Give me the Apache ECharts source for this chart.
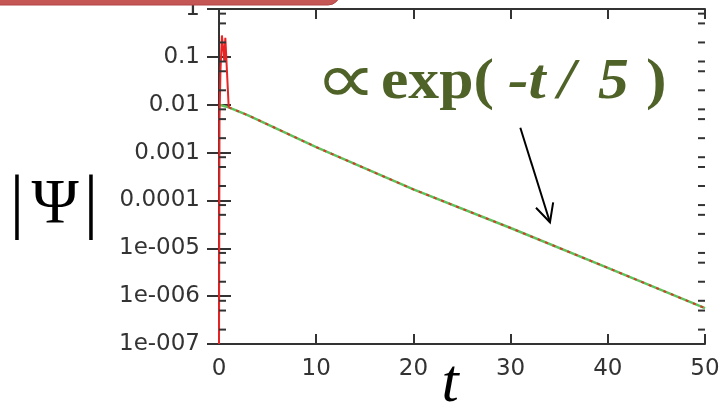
<!DOCTYPE html>
<html>
<head>
<meta charset="utf-8">
<script src="https://cdn.jsdelivr.net/npm/echarts@6/dist/echarts.min.js"></script>
<style>
html,body{margin:0;padding:0;background:#fff;}
#chart{width:724px;height:409px;}
</style>
</head>
<body>
<div id="chart"></div>
<script>
// ---- data ----
const xTicks = [0, 10, 20, 30, 40, 50];
const yTickLabels = ['1e-007', '1e-006', '1e-005', '0.0001', '0.001', '0.01', '0.1', '1'];
// exponential fit  ∝ exp(-t/5)  (green)
const fitT = [0, 1, 3, 10, 20, 30, 40, 50];
const fitV = [0.0100, 0.0088, 0.0060, 0.0013, 0.00017, 0.0000265, 0.0000039, 0.00000056];
// numerical |Psi| (red): initial burst, then decay along the fit
const burstT = [0, 0.05, 0.15, 0.3, 0.45, 0.55, 0.65, 0.8, 1.0];
const burstV = [1e-7, 0.005, 0.05, 0.28, 0.30, 0.08, 0.25, 0.06, 0.0088];
const decayT = [1, 3, 10, 20, 30, 40, 50];
const decayV = [0.0088, 0.0060, 0.0013, 0.00017, 0.0000265, 0.0000039, 0.00000056];
// minor ticks on the log axis (2, 5, 8 per decade)
const minorTickValues = [
  0.8, 0.5, 0.2, 0.08, 0.05, 0.02, 0.008, 0.005, 0.002,
  0.0008, 0.0005, 0.0002, 0.00008, 0.00005, 0.00002,
  0.000008, 0.000005, 0.000002, 0.0000008, 0.0000005, 0.0000002
];
// annotation arrow (data coordinates)
const arrowFrom = [31.0, 3.3e-3];
const arrowTo = [34.05, 3.5e-5];

const zip = (a, b) => a.map((v, i) => [v, b[i]]);

const AX = '#333';
const chart = echarts.init(document.getElementById('chart'));

const yAxisBase = {
  type: 'log', logBase: 10, min: 1e-7, max: 1, splitNumber: 7,
  axisLine: { show: true, lineStyle: { color: AX, width: 2 } },
  axisTick: { show: true, inside: true, length: 12, lineStyle: { color: AX, width: 2 } },
  splitLine: { show: false }, minorTick: { show: false }
};
const xAxisBase = {
  type: 'value', min: 0, max: 50, interval: 10,
  axisLine: { show: true, onZero: false, lineStyle: { color: AX, width: 2 } },
  axisTick: { show: true, inside: true, length: 10, lineStyle: { color: AX, width: 2 } },
  splitLine: { show: false }
};

chart.setOption({
  animation: false,
  backgroundColor: '#fff',
  grid: { left: 219, top: 9, width: 486, height: 335, containLabel: false, outerBoundsMode: 'none' },
  xAxis: [
    Object.assign({}, xAxisBase, {
      position: 'bottom',
      axisLabel: { show: true, fontFamily: 'DejaVu Sans', fontSize: 23, color: AX, margin: 14,
        formatter: v => xTicks.indexOf(v) >= 0 ? String(v) : '' }
    }),
    Object.assign({}, xAxisBase, { position: 'top', axisLabel: { show: false } })
  ],
  yAxis: [
    Object.assign({}, yAxisBase, {
      position: 'left',
      axisLabel: { show: true, fontFamily: 'DejaVu Sans', fontSize: 23, color: AX, margin: 19,
        formatter: v => yTickLabels[Math.round(Math.log10(v)) + 7] }
    }),
    Object.assign({}, yAxisBase, { position: 'right', axisLabel: { show: false } })
  ],
  series: [
    {
      type: 'line', name: 'fit', data: zip(fitT, fitV), showSymbol: false, z: 2,
      lineStyle: { color: '#5cc35c', width: 2.5 }
    },
    {
      type: 'line', name: 'burst', data: zip(burstT, burstV), showSymbol: false, z: 3,
      lineStyle: { color: '#e82424', width: 2 }
    },
    {
      type: 'line', name: 'numeric', data: zip(decayT, decayV), showSymbol: false, z: 4,
      lineStyle: { color: '#d83a2a', width: 2, type: [3, 5] }
    },
    {
      type: 'custom', name: 'minorTicks', silent: true, clip: false, z: 5,
      data: minorTickValues.map(v => [0, v]),
      renderItem: (params, api) => {
        const v = api.value(1);
        const p = api.coord([0, v]);
        const q = api.coord([50, v]);
        const st = { stroke: AX, lineWidth: 2 };
        return {
          type: 'group',
          children: [
            { type: 'line', shape: { x1: p[0], y1: p[1], x2: p[0] + 7, y2: p[1] }, style: st },
            { type: 'line', shape: { x1: q[0] - 7, y1: q[1], x2: q[0], y2: q[1] }, style: st }
          ]
        };
      }
    }
  ]
});

const a0 = chart.convertToPixel({ gridIndex: 0 }, arrowFrom);
const a1 = chart.convertToPixel({ gridIndex: 0 }, arrowTo);
const dx = a1[0] - a0[0], dy = a1[1] - a0[1];
const L = Math.hypot(dx, dy), ux = dx / L, uy = dy / L;
const hl = 18, hw = 9;
const h1 = [a1[0] - ux * hl - uy * hw, a1[1] - uy * hl + ux * hw];
const h2 = [a1[0] - ux * hl + uy * hw, a1[1] - uy * hl - ux * hw];

const OLIVE = '#4f6228';
const serif = 'Liberation Serif';
chart.setOption({
  graphic: [
    { type: 'rect', shape: { x: -12, y: -30, width: 352, height: 35, r: 12 },
      style: { fill: '#c55656', stroke: '#b04545', lineWidth: 1 }, z: 10 },
    // |Psi|
    { type: 'text', x: 17, y: 206, style: { text: '|', font: '72px ' + serif, fill: '#000', align: 'center', verticalAlign: 'middle' } },
    { type: 'text', x: 55, y: 206, style: { text: 'Ψ', font: '64px ' + serif, fill: '#000', align: 'center', verticalAlign: 'middle' } },
    { type: 'text', x: 91, y: 206, style: { text: '|', font: '72px ' + serif, fill: '#000', align: 'center', verticalAlign: 'middle' } },
    // t
    { type: 'text', x: 450, y: 385, style: { text: 't', font: 'italic 62px ' + serif, fill: '#000', align: 'center', verticalAlign: 'middle' } },
    // formula
    { type: 'text', x: 346, y: 84, scaleX: 1.2, style: { text: '∝', font: '200 72px DejaVu Sans', fill: OLIVE, align: 'center', verticalAlign: 'middle' } },
    { type: 'text', x: 381, y: 84, scaleX: 1.1, style: { text: 'exp(', font: 'bold 56px ' + serif, fill: OLIVE, align: 'left', verticalAlign: 'middle' } },
    { type: 'text', x: 508, y: 84, scaleX: 1.1, style: { text: '-t', font: 'italic bold 56px ' + serif, fill: OLIVE, align: 'left', verticalAlign: 'middle' } },
    { type: 'text', x: 558, y: 84, scaleX: 1.1, style: { text: '/', font: 'italic bold 56px ' + serif, fill: OLIVE, align: 'left', verticalAlign: 'middle' } },
    { type: 'text', x: 598, y: 84, scaleX: 1.1, style: { text: '5', font: 'italic bold 56px ' + serif, fill: OLIVE, align: 'left', verticalAlign: 'middle' } },
    { type: 'text', x: 646, y: 84, scaleX: 1.1, style: { text: ')', font: 'bold 56px ' + serif, fill: OLIVE, align: 'left', verticalAlign: 'middle' } },
    // arrow
    { type: 'line', shape: { x1: a0[0], y1: a0[1], x2: a1[0], y2: a1[1] }, style: { stroke: '#000', lineWidth: 2 } },
    { type: 'polyline', shape: { points: [h1, a1, h2] }, style: { stroke: '#000', lineWidth: 2, fill: null } }
  ]
});
</script>
</body>
</html>
